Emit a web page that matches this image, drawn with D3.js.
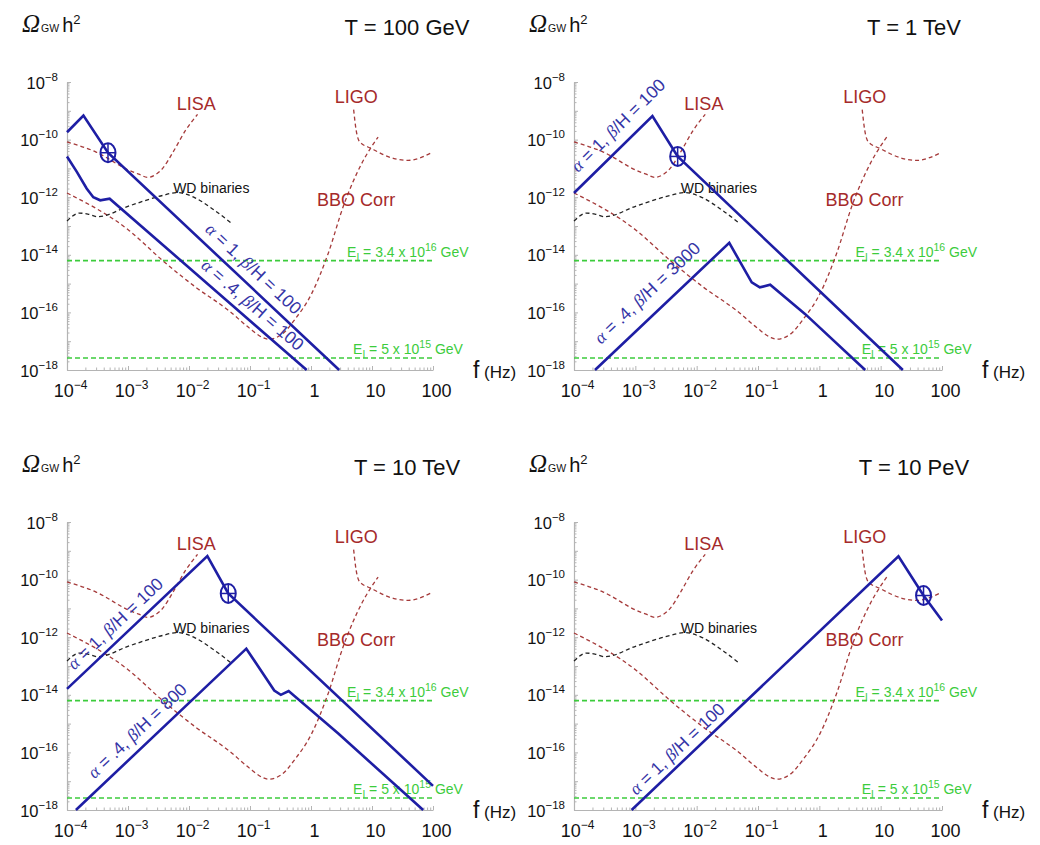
<!DOCTYPE html>
<html><head><meta charset="utf-8">
<script src="https://cdn.jsdelivr.net/npm/d3@7"></script>
<style>
body{margin:0;background:#fff;}
svg text{font-family:"Liberation Sans",Arial,sans-serif;}
</style></head><body>
<svg id="c" width="1040" height="845"></svg>
<script>
// ---------- axis ticks ----------
const freqTicks = [1e-4, 1e-3, 1e-2, 1e-1, 1, 10, 100];
const freqTickBase = ["10", "10", "10", "10", "1", "10", "100"];
const freqTickExp = ["\u22124", "\u22123", "\u22122", "\u22121", "", "", ""];
const omegaTicks = [1e-8, 1e-10, 1e-12, 1e-14, 1e-16, 1e-18];
const omegaTickExp = ["\u22128", "\u221210", "\u221212", "\u221214", "\u221216", "\u221218"];

// ---------- panel titles ----------
const panelTitles = ["T = 100 GeV", "T = 1 TeV", "T = 10 TeV", "T = 10 PeV"];

// ---------- detector sensitivity curves (same in every panel) ----------
const lisaF      = [1e-4, 3.0e-4, 1.05e-3, 1.5e-3, 2.1e-3, 2.8e-3, 3.7e-3, 5.4e-3, 8.9e-3, 1.38e-2];
const lisaOmega  = [8.3e-11, 3.7e-11, 8.5e-12, 6.3e-12, 4.9e-12, 6.0e-12, 1.0e-11, 3.5e-11, 2.2e-10, 7.5e-10];
const wdF        = [1e-4, 1.6e-4, 2.2e-4, 3.2e-4, 1.05e-3, 3.7e-3, 6.3e-3, 1.26e-2, 2.4e-2, 5.1e-2];
const wdOmega    = [1.5e-13, 2.8e-13, 2.6e-13, 2.1e-13, 5.0e-13, 1.15e-12, 1.45e-12, 9.5e-13, 4.0e-13, 1.2e-13];
const bboF       = [1e-4, 1.05e-3, 3.7e-3, 1.3e-2, 4.5e-2, 9.5e-2, 0.16, 0.20, 0.33, 0.55, 1.02, 1.9, 3.5, 6.8, 12.6];
const bboOmega   = [1.4e-12, 6.9e-14, 6.3e-15, 7.4e-16, 1.15e-16, 3.0e-17, 1.35e-17, 1.17e-17, 1.7e-17, 5.9e-17, 4.4e-16, 1.07e-14, 5.9e-13, 1.5e-11, 1.23e-10];
const ligoF      = [5.0, 5.5, 6.3, 9.8, 23, 39, 95];
const ligoOmega  = [1.1e-9, 2.1e-10, 8.3e-11, 4.9e-11, 2.2e-11, 1.9e-11, 3.5e-11];

// inflation bounds (horizontal dashed lines)
const inflationOmega = [6.3e-15, 2.6e-18];
const inflationScale = ["3.4", "5"];
const inflationExp   = ["16", "15"];
const inflationLabelF = [3.9, 4.9];

// detector labels
const detectorNames  = ["LISA", "LIGO", "BBO Corr", "WD binaries"];
const detectorLabelF = [6.3e-3, 2.45, 1.26, 5.5e-3];
const detectorLabelOmega = [1.05e-9, 1.86e-9, 5.1e-13, 1.35e-12];

// ---------- phase-transition spectra ----------
// T = 100 GeV
const p1StrongF     = [1e-4, 1.86e-4, 4.7e-4, 2.9];
const p1StrongOmega = [1.8e-10, 6.8e-10, 3.5e-11, 1e-18];
const p1WeakF       = [1e-4, 1.45e-4, 2.1e-4, 2.7e-4, 3.5e-4, 5.0e-4, 0.85];
const p1WeakOmega   = [2.6e-11, 7.6e-12, 2.0e-12, 1.0e-12, 7.8e-13, 8.9e-13, 1e-18];
// T = 1 TeV
const p2StrongF     = [1e-4, 1.9e-3, 4.9e-3, 23];
const p2StrongOmega = [1.4e-12, 6.6e-10, 2.6e-11, 1e-18];
const p2WeakF       = [2.2e-4, 3.4e-2, 7.9e-2, 0.107, 0.158, 0.59, 5.6];
const p2WeakOmega   = [1e-18, 2.6e-14, 1.1e-15, 7.4e-16, 9.1e-16, 8.7e-17, 1e-18];
// T = 10 TeV
const p3StrongF     = [1e-4, 2.0e-2, 4.4e-2, 100];
const p3StrongOmega = [1.6e-14, 6.6e-10, 3.3e-11, 6.9e-18];
const p3WeakF       = [1.4e-4, 8.7e-2, 0.25, 0.32, 0.43, 2.8, 69];
const p3WeakOmega   = [1e-18, 4.0e-13, 1.4e-14, 1.0e-14, 1.35e-14, 4.5e-16, 1e-18];
// T = 10 PeV
const p4StrongF     = [8.7e-4, 19.5, 50, 100];
const p4StrongOmega = [1e-18, 6.5e-10, 2.8e-11, 3.8e-12];

// marker (circle with cross) on each panel
const markerF     = [4.7e-4, 4.9e-3, 4.4e-2, 50];
const markerOmega = [3.5e-11, 2.6e-11, 3.3e-11, 2.8e-11];

// spectrum labels: alpha, beta/H, anchor (f, Omega), which curve, which segment
const specAlpha = [["1", ".4"], ["1", ".4"], ["1", ".4"], ["1"]];
const specBeta  = [["100", "100"], ["100", "3000"], ["100", "800"], ["100"]];
const specLabelF     = [[9.5e-2, 9.3e-2], [6.3e-4, 1.86e-3], [7.4e-4, 1.7e-3], [5.75e-3]];
const specLabelOmega = [[2.2e-15, 1.2e-16], [2.1e-10, 3.2e-16], [2.0e-12, 3.8e-16], [8.9e-17]];
const specLabelSeg   = [[2, 5], [0, 0], [0, 0], [0]];

// ---------- build ----------
const zip = (a, b) => a.map((v, i) => [v, b[i]]);
const panels = [
  {title: panelTitles[0], curves: [zip(p1StrongF, p1StrongOmega), zip(p1WeakF, p1WeakOmega)]},
  {title: panelTitles[1], curves: [zip(p2StrongF, p2StrongOmega), zip(p2WeakF, p2WeakOmega)]},
  {title: panelTitles[2], curves: [zip(p3StrongF, p3StrongOmega), zip(p3WeakF, p3WeakOmega)]},
  {title: panelTitles[3], curves: [zip(p4StrongF, p4StrongOmega)]}
];
const frames = [
  {l: 67, r: 433, t: 82, b: 370},
  {l: 574, r: 942, t: 82, b: 370},
  {l: 67, r: 433, t: 522, b: 810},
  {l: 574, r: 942, t: 522, b: 810}
];

const BLUE = "#1e1ea4", RED = "#a53a3a", GREEN = "#3ccc3c", AXIS = "#b4b4b4";
const svg = d3.select("#c");

panels.forEach((p, i) => {
  const F = frames[i];
  const x = d3.scaleLog().domain([1e-4, 100]).range([F.l, F.r]);
  const y = d3.scaleLog().domain([1e-18, 1e-8]).range([F.b, F.t]);
  const g = svg.append("g");
  const isDecade = v => Math.abs(Math.log10(v) - Math.round(Math.log10(v))) < 1e-6;

  // axes with minor ticks
  const gx = g.append("g").attr("transform", `translate(0,${F.b})`)
    .call(d3.axisBottom(x).tickValues(x.ticks()).tickSize(-3).tickSizeOuter(0).tickFormat(""));
  gx.select(".domain").attr("stroke", AXIS).attr("stroke-width", 1.2);
  gx.selectAll(".tick line").attr("stroke", AXIS).attr("y2", d => isDecade(d) ? -4 : -2.5);
  const gy = g.append("g").attr("transform", `translate(${F.l},0)`)
    .call(d3.axisLeft(y).tickValues(y.ticks(20)).tickSize(-3).tickSizeOuter(0).tickFormat(""));
  gy.select(".domain").attr("stroke", AXIS).attr("stroke-width", 1.2);
  gy.selectAll(".tick line").attr("stroke", AXIS).attr("x2", d => isDecade(d) ? 4 : 2.5);

  // tick labels
  const xl = g.append("g").attr("transform", `translate(0,${F.b})`)
    .call(d3.axisBottom(x).tickValues(freqTicks).tickSize(0).tickFormat(""));
  xl.select(".domain").remove();
  xl.selectAll(".tick text").each(function(d, k) {
    const t = d3.select(this).attr("x", 3).attr("y", 27).attr("dy", null)
      .attr("font-size", 18).attr("fill", "#111").attr("font-family", "Liberation Sans").attr("text-anchor", "middle");
    t.append("tspan").text(freqTickBase[k]);
    if (freqTickExp[k]) t.append("tspan").attr("font-size", 12).attr("dy", -8).text(freqTickExp[k]);
  });
  const yl = g.append("g").attr("transform", `translate(${F.l},0)`)
    .call(d3.axisLeft(y).tickValues(omegaTicks).tickSize(0).tickFormat(""));
  yl.select(".domain").remove();
  yl.selectAll(".tick text").each(function(d, k) {
    const t = d3.select(this).attr("x", -9).attr("y", 6).attr("dy", null)
      .attr("font-size", 16.5).attr("fill", "#111").attr("font-family", "Liberation Sans").attr("text-anchor", "end");
    t.append("tspan").text("10");
    t.append("tspan").attr("font-size", 11.5).attr("dy", -8).text(omegaTickExp[k]);
  });

  // axis titles
  const om = g.append("text").attr("x", F.l - 45).attr("y", F.t - 50).attr("fill", "#111");
  om.append("tspan").attr("font-family", "Liberation Serif").attr("font-style", "italic").attr("font-size", 25).text("\u03A9");
  om.append("tspan").attr("font-size", 10.5).attr("dx", 1).text("GW");
  om.append("tspan").attr("font-size", 20).attr("dx", 3).text("h");
  om.append("tspan").attr("font-size", 13).attr("dy", -8).text("2");
  g.append("text").attr("x", F.l + 340).attr("y", F.t - 47).attr("text-anchor", "middle")
    .attr("font-size", 22).attr("fill", "#111").text(p.title);
  const fh = g.append("text").attr("x", F.r + 40).attr("y", F.b + 8).attr("fill", "#111");
  fh.append("tspan").attr("font-size", 23).text("f");
  fh.append("tspan").attr("font-size", 17).text(" (Hz)");

  // inflation lines
  inflationOmega.forEach((v, k) => {
    g.append("line").attr("x1", x(1e-4)).attr("x2", x(100)).attr("y1", y(v)).attr("y2", y(v))
      .attr("stroke", GREEN).attr("stroke-width", 1.6).attr("stroke-dasharray", "5,3");
    const t = g.append("text").attr("x", x(inflationLabelF[k])).attr("y", y(v) - 4)
      .attr("font-size", 14).attr("fill", GREEN);
    t.append("tspan").text("E");
    t.append("tspan").attr("font-size", 10).attr("dy", 4).text("I");
    t.append("tspan").attr("dy", -4).text(" = " + inflationScale[k] + " x 10");
    t.append("tspan").attr("font-size", 10.5).attr("dy", -6).text(inflationExp[k]);
    t.append("tspan").attr("dy", 6).text(" GeV");
  });

  // detector curves
  const smooth = d3.line().x(d => x(d[0])).y(d => y(d[1])).curve(d3.curveMonotoneX);
  [[zip(lisaF, lisaOmega), RED], [zip(bboF, bboOmega), RED], [zip(ligoF, ligoOmega), RED], [zip(wdF, wdOmega), "#222"]]
    .forEach(([data, col]) => {
      g.append("path").attr("d", smooth(data)).attr("fill", "none").attr("stroke", col)
        .attr("stroke-width", 1.3).attr("stroke-dasharray", "4,3");
    });

  // detector labels
  detectorNames.forEach((name, k) => {
    g.append("text").attr("x", x(detectorLabelF[k])).attr("y", y(detectorLabelOmega[k]))
      .attr("font-size", k === 3 ? 14 : 18).attr("fill", k === 3 ? "#111" : "#a52a2a").text(name);
  });

  // spectra
  const straight = d3.line().x(d => x(d[0])).y(d => y(d[1]));
  p.curves.forEach(c => {
    g.append("path").attr("d", straight(c)).attr("fill", "none").attr("stroke", BLUE)
      .attr("stroke-width", 2.6).attr("stroke-linejoin", "miter");
  });

  // marker
  const mx = x(markerF[i]), my = y(markerOmega[i]);
  g.append("ellipse").attr("cx", mx).attr("cy", my).attr("rx", 7.5).attr("ry", 9.5)
    .attr("fill", "none").attr("stroke", BLUE).attr("stroke-width", 2);
  g.append("line").attr("x1", mx).attr("x2", mx).attr("y1", my - 9.5).attr("y2", my + 9.5).attr("stroke", BLUE).attr("stroke-width", 1.5);
  g.append("line").attr("x1", mx - 7.5).attr("x2", mx + 7.5).attr("y1", my).attr("y2", my).attr("stroke", BLUE).attr("stroke-width", 1.5);

  // spectrum labels
  specAlpha[i].forEach((a, k) => {
    const c = p.curves[k], s = specLabelSeg[i][k];
    const ang = Math.atan2(y(c[s + 1][1]) - y(c[s][1]), x(c[s + 1][0]) - x(c[s][0])) * 180 / Math.PI;
    const t = g.append("text")
      .attr("transform", `translate(${x(specLabelF[i][k])},${y(specLabelOmega[i][k])}) rotate(${ang})`)
      .attr("y", -1).attr("text-anchor", "middle").attr("font-size", 17.5).attr("fill", "#3434a6");
    t.append("tspan").attr("font-family", "Liberation Serif").attr("font-style", "italic").text("\u03B1");
    t.append("tspan").text(" = " + a + ", ");
    t.append("tspan").attr("font-family", "Liberation Serif").attr("font-style", "italic").text("\u03B2");
    t.append("tspan").text("/H = " + specBeta[i][k]);
  });
});
</script></body></html>
